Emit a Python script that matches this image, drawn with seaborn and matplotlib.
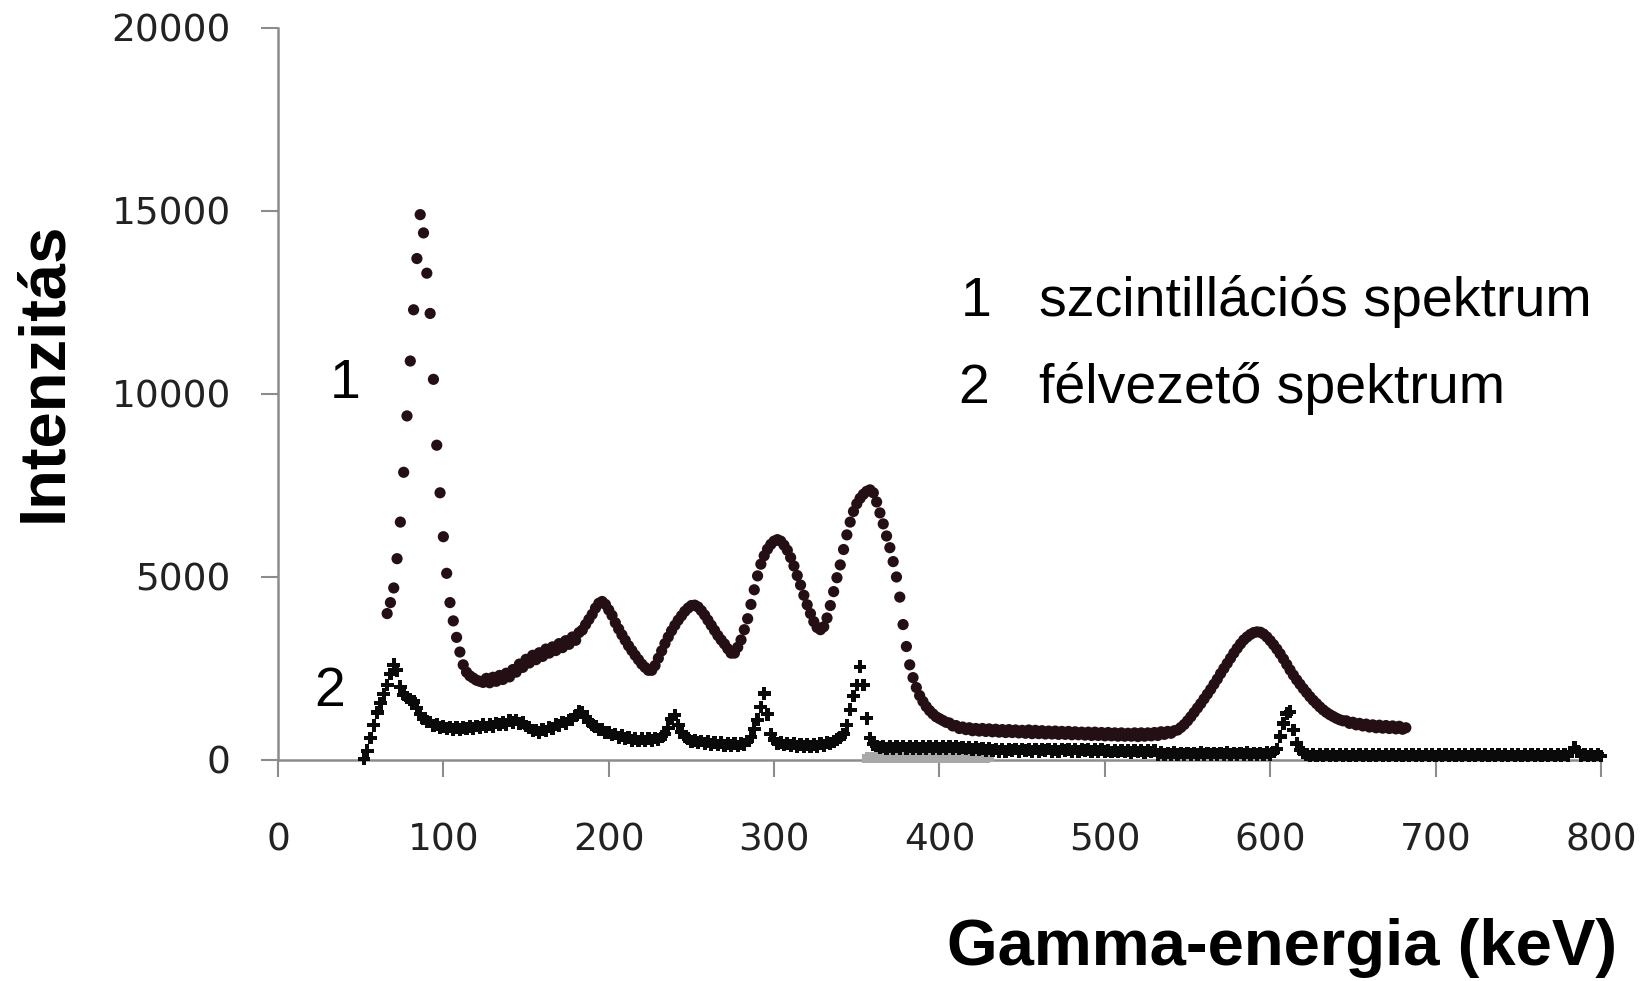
import numpy as np
import matplotlib
matplotlib.use('Agg')
import matplotlib.pyplot as plt
import seaborn as sns

# channel calibration: energy of channel i = START + STEP * i (keV)
CH_STEP = 2
SCINT_START = 66
SEMI_START = 52
GRAY_START = 356

# 1 - scintillation spectrum (intensity per channel)
scint_counts = [
    4000, 4300, 4700, 5500, 6500, 7860, 9400, 10900, 12300, 13700,
    14900, 14400, 13300, 12200, 10400, 8600, 7300, 6100, 5100, 4300,
    3800, 3350, 2950, 2600, 2400, 2300, 2240, 2180, 2150, 2120,
    2230, 2110, 2260, 2150, 2310, 2200, 2370, 2270, 2470, 2400,
    2620, 2530, 2750, 2650, 2860, 2740, 2930, 2830, 3030, 2920,
    3090, 2990, 3180, 3070, 3260, 3160, 3360, 3270, 3480, 3550,
    3700, 3840, 3980, 4150, 4280, 4330, 4250, 4100, 3950, 3750,
    3580, 3420, 3270, 3120, 2990, 2860, 2740, 2620, 2530, 2450,
    2450, 2580, 2780, 2980, 3180, 3360, 3530, 3680, 3820, 3940,
    4060, 4150, 4220, 4230, 4180, 4080, 3960, 3820, 3680, 3540,
    3400, 3280, 3170, 3040, 2920, 2920, 3080, 3280, 3560, 3860,
    4250, 4650, 5030, 5350, 5580, 5760, 5890, 5980, 6020, 5980,
    5870, 5730, 5530, 5300, 5040, 4780, 4500, 4240, 4000, 3780,
    3620, 3560, 3640, 3880, 4220, 4600, 4980, 5330, 5750, 6150,
    6500, 6790, 7000, 7150, 7260, 7340, 7380, 7300, 7050, 6750,
    6450, 6120, 5800, 5420, 5000, 4450, 3700, 3100, 2600, 2250,
    1980, 1760, 1600, 1460, 1350, 1260, 1180, 1130, 1080, 1030,
    1010, 930, 940, 860, 900, 830, 880, 800, 860, 790,
    860, 780, 850, 770, 840, 760, 830, 750, 830, 750,
    820, 740, 810, 730, 820, 720, 810, 720, 800, 710,
    790, 710, 790, 700, 780, 700, 780, 690, 770, 690,
    760, 680, 760, 670, 760, 670, 750, 660, 750, 660,
    740, 650, 740, 650, 730, 650, 740, 640, 740, 650,
    740, 660, 750, 670, 770, 700, 780, 730, 800, 820,
    890, 970, 1070, 1180, 1300, 1420, 1540, 1670, 1800, 1930,
    2070, 2210, 2360, 2500, 2640, 2780, 2920, 3050, 3170, 3280,
    3360, 3430, 3480, 3500, 3490, 3440, 3360, 3260, 3150, 3030,
    2900, 2760, 2610, 2460, 2320, 2190, 2070, 1950, 1840, 1730,
    1630, 1540, 1450, 1370, 1300, 1240, 1190, 1140, 1100, 1070,
    1070, 1000, 1030, 960, 1000, 930, 980, 900, 960, 880,
    950, 870, 940, 860, 930, 850, 920, 840, 880,
]

# 2 - semiconductor spectrum
semi_counts = [
    30, 250, 600, 950, 1300, 1550, 1800, 2050, 2350, 2600,
    2450, 2000, 1780, 1700, 1650, 1600, 1420, 1250, 1130, 1050,
    1040, 950, 970, 890, 920, 850, 900, 830, 890, 840,
    880, 850, 910, 860, 930, 880, 960, 900, 980, 920,
    1010, 960, 1030, 980, 1070, 1020, 1090, 1000, 1020, 930,
    880, 810, 820, 750, 830, 790, 900, 860, 970, 940,
    1040, 990, 1090, 1110, 1220, 1320, 1300, 1180, 1050, 960,
    910, 830, 830, 740, 760, 680, 710, 620, 660, 580,
    620, 540, 590, 520, 580, 520, 590, 530, 600, 560,
    650, 700, 880, 1120, 1230, 950, 760, 640, 590, 500,
    540, 470, 520, 440, 500, 430, 480, 410, 470, 400,
    450, 390, 440, 380, 450, 420, 520, 620, 850, 1100,
    1450, 1820, 1250, 700, 560, 460, 480, 410, 460, 390,
    440, 370, 430, 360, 420, 360, 430, 370, 440, 400,
    470, 450, 510, 560, 620, 700, 950, 1370, 1750, 2050,
    2550, 2050, 1140, 600, 430, 380, 330, 370, 320, 360,
    310, 370, 320, 380, 320, 370, 310, 370, 320, 360,
    310, 370, 320, 370, 310, 360, 320, 370, 310, 360,
    310, 350, 300, 350, 290, 340, 290, 320, 270, 310,
    250, 300, 240, 300, 240, 290, 250, 300, 240, 300,
    250, 290, 240, 300, 240, 290, 250, 300, 240, 290,
    240, 300, 250, 290, 240, 300, 240, 290, 250, 290,
    240, 290, 240, 280, 230, 270, 220, 270, 220, 260,
    220, 270, 210, 260, 220, 270, 210, 260, 220, 250,
    150, 200, 140, 190, 150, 200, 140, 190, 150, 190,
    140, 190, 150, 200, 140, 190, 150, 190, 140, 190,
    150, 200, 140, 190, 150, 190, 140, 200, 150, 190,
    140, 190, 150, 200, 160, 220, 300, 640, 1000, 1270,
    1320, 820, 450, 280, 200, 160, 110, 160, 110, 160,
    110, 160, 110, 160, 110, 160, 110, 160, 110, 160,
    110, 160, 110, 160, 110, 160, 110, 160, 110, 160,
    110, 160, 110, 160, 110, 160, 110, 160, 110, 160,
    110, 160, 110, 160, 110, 160, 110, 160, 110, 160,
    110, 160, 110, 160, 110, 160, 110, 160, 110, 160,
    110, 160, 110, 160, 110, 160, 110, 160, 110, 160,
    110, 160, 110, 160, 110, 160, 110, 160, 110, 160,
    110, 160, 110, 160, 110, 220, 330, 230, 110, 160,
    110, 160, 110, 160, 110,
]

# light grey points lying on the axis around 360-430 keV
gray_counts = [
    40, 80, 40, 80, 40, 80, 40, 80, 40, 80,
    40, 80, 40, 80, 40, 80, 40, 80, 40, 80,
    40, 80, 40, 80, 40, 80, 40, 80, 40, 80,
    40, 80, 40, 80, 40, 80, 40, 80,
]

x_ticks = [0, 100, 200, 300, 400, 500, 600, 700, 800]
y_ticks = [0, 5000, 10000, 15000, 20000]

legend_lines = ["szcintillációs spektrum", "félvezető spektrum"]


def channel_energies(start, counts):
    return start + CH_STEP * np.arange(len(counts))


sns.set_style("ticks")
plt.rcParams['font.family'] = ['DejaVu Sans']

fig = plt.figure(figsize=(16.41, 9.81), dpi=100)
ax = fig.add_axes([0.1694, 0.2253, 0.8062, 0.7462])

axis_grey = '#8c8c8c'

sns.scatterplot(x=channel_energies(GRAY_START, gray_counts), y=gray_counts, ax=ax,
                marker='s', s=45, color='#a8a8a8', edgecolor='none', linewidth=0,
                clip_on=False, zorder=3)
sns.scatterplot(x=channel_energies(SEMI_START, semi_counts), y=semi_counts, ax=ax,
                marker='P', s=85, color='#0a0a0a', edgecolor='none', linewidth=0,
                clip_on=False, zorder=4)
sns.scatterplot(x=channel_energies(SCINT_START, scint_counts), y=scint_counts, ax=ax,
                marker='o', s=65, color='#241014', edgecolor='none', linewidth=0,
                clip_on=False, zorder=5)

ax.set_xlim(0, 800)
ax.set_ylim(0, 20000)
ax.set_xticks(x_ticks)
ax.set_yticks(y_ticks)
ax.set_xlabel('')
ax.set_ylabel('')

sns.despine(ax=ax)
for side in ['left', 'bottom']:
    ax.spines[side].set_color(axis_grey)
    ax.spines[side].set_linewidth(1.8)

ax.tick_params(axis='both', direction='out', length=12, width=1.5,
               color=axis_grey, labelcolor='#222222', labelsize=27)
ax.tick_params(axis='x', pad=33)
ax.tick_params(axis='y', pad=22)

# curve numbers next to the spectra
num_font = dict(family='Liberation Sans', fontsize=40, color='black')
ax.text(40.8, 9890, "1", ha='center', va='baseline', **num_font)
ax.text(31.3, 1475, "2", ha='center', va='baseline', **num_font)

# legend written as plain text
ax.text(422.4, 12130, "1", ha='center', va='baseline', **num_font)
ax.text(460.2, 12130, legend_lines[0], ha='left', va='baseline', **num_font)
ax.text(420.5, 9750, "2", ha='center', va='baseline', **num_font)
ax.text(460.2, 9750, legend_lines[1], ha='left', va='baseline', **num_font)

label_font = dict(family='Liberation Sans', fontsize=47, fontweight='bold', color='black')
fig.text(1617 / 1641, 1 - 965 / 981, "Gamma-energia (keV)", ha='right', va='baseline', **label_font)
fig.text(44 / 1641, 1 - 372 / 981, "Intenzitás", rotation=90, ha='center', va='center', **label_font)

fig.savefig('out.png', dpi=100, facecolor='white')
plt.close(fig)
